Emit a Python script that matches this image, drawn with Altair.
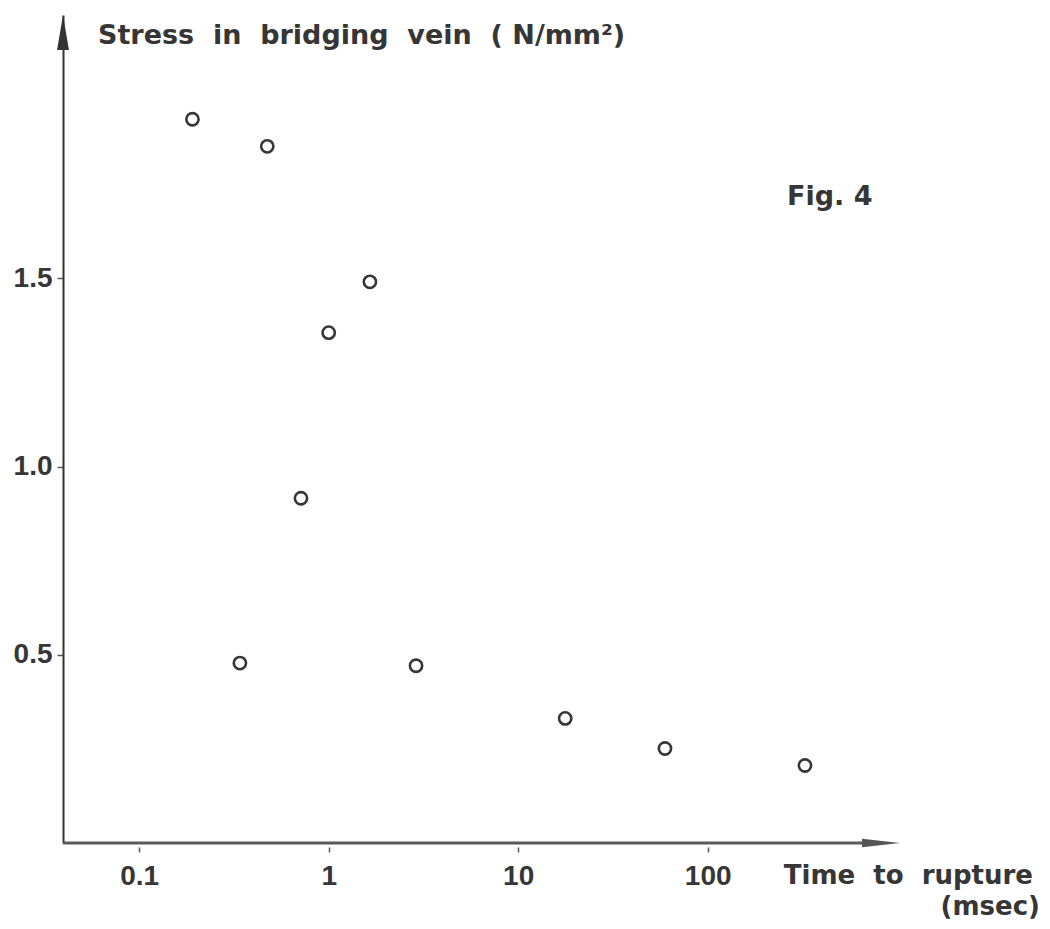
import altair as alt
import pandas as pd

# Data
time_ms = [0.191, 0.474, 1.65, 1.0, 0.714, 0.34, 2.89, 17.7, 59.5, 326]
stress = [1.923, 1.851, 1.491, 1.356, 0.916, 0.478, 0.471, 0.331, 0.251, 0.206]

x_ticks = [0.1, 1, 10, 100]
y_ticks = [0.5, 1.0, 1.5]

y_title = ["Stress\u00a0\u00a0in\u00a0\u00a0bridging\u00a0\u00a0vein\u00a0\u00a0(\u00a0N/mm²)"]
x_title_1 = ["Time\u00a0\u00a0to\u00a0\u00a0rupture"]
x_title_2 = ["(msec)"]
fig_label = ["Fig.\u00a04"]

XMIN, XMAX = 0.03962, 1034.6
YMIN, YMAX = 0.0, 2.2
W, H = 837, 828

INK = "#363636"
WORD_FONT = "DejaVu Sans"
NUM_FONT = "Liberation Sans"

df = pd.DataFrame({"t": time_ms, "s": stress})

xscale = alt.Scale(type="log", domain=[XMIN, XMAX], nice=False)
yscale = alt.Scale(domain=[YMIN, YMAX], nice=False, zero=False)

points = alt.Chart(df).mark_point(
    shape="circle", filled=False, size=150, strokeWidth=2.6, color=INK, opacity=1
).encode(
    x=alt.X("t:Q", scale=xscale,
            axis=alt.Axis(values=x_ticks, format="~g", title=None, domain=False,
                          grid=False, offset=4, tickSize=5, tickWidth=1.5,
                          tickColor="#555", labelPadding=10, labelFont=NUM_FONT,
                          labelFontSize=28, labelFontWeight="bold", labelColor=INK,
                          labelFlush=False)),
    y=alt.Y("s:Q", scale=yscale,
            axis=alt.Axis(values=y_ticks, format=".1f", title=None, domain=True,
                          domainColor="#333", domainWidth=2, grid=False,
                          tickSize=6, tickWidth=1.5, tickColor="#555",
                          labelPadding=5, labelFont=NUM_FONT, labelFontSize=28,
                          labelFontWeight="bold", labelColor=INK, labelFlush=False)),
)

one = alt.Data(values=[{"k": 1}])

x_line = alt.Chart(one).mark_rule(color="#5a5a5a", strokeWidth=3).encode(
    x=alt.X(datum=XMIN, scale=xscale), x2=alt.X2(datum=XMAX * 0.8),
    y=alt.Y(datum=0, scale=yscale),
)

y_arrow = alt.Chart(one).mark_point(
    shape="M0,0 L0.17,1 L-0.17,1 Z", filled=True, size=4900, color="#333", opacity=1
).encode(x=alt.X(datum=XMIN, scale=xscale), y=alt.Y(datum=YMAX, scale=yscale))

x_arrow = alt.Chart(one).mark_point(
    shape="M0,0 L-1,-0.11 L-1,0.11 Z", filled=True, size=5776, color="#555", opacity=1
).encode(x=alt.X(datum=XMAX, scale=xscale), y=alt.Y(datum=0, scale=yscale))


def label(txt, x, y, align, size=27):
    return alt.Chart(alt.Data(values=[{"txt": txt}])).mark_text(
        font=WORD_FONT, fontSize=size, fontWeight="bold", color=INK,
        align=align, baseline="alphabetic"
    ).encode(x=alt.value(x), y=alt.value(y), text="txt:N")


t_y = label(y_title[0], 35, 29, "left")
t_fig = label(fig_label[0], 724, 190, "left")
t_x1 = label(x_title_1[0], 970, 869, "right", 26)
t_x2 = label(x_title_2[0], 977, 900, "right", 26)

chart = alt.layer(x_line, points, y_arrow, x_arrow, t_y, t_fig, t_x1, t_x2).properties(
    width=W, height=H,
    autosize=alt.AutoSizeParams(type="none"),
    padding={"left": 55, "top": 7, "right": 142, "bottom": 80},
    background="white",
).configure_view(stroke=None)

chart.save("out.html", embed_options={"renderer": "svg", "actions": False})
